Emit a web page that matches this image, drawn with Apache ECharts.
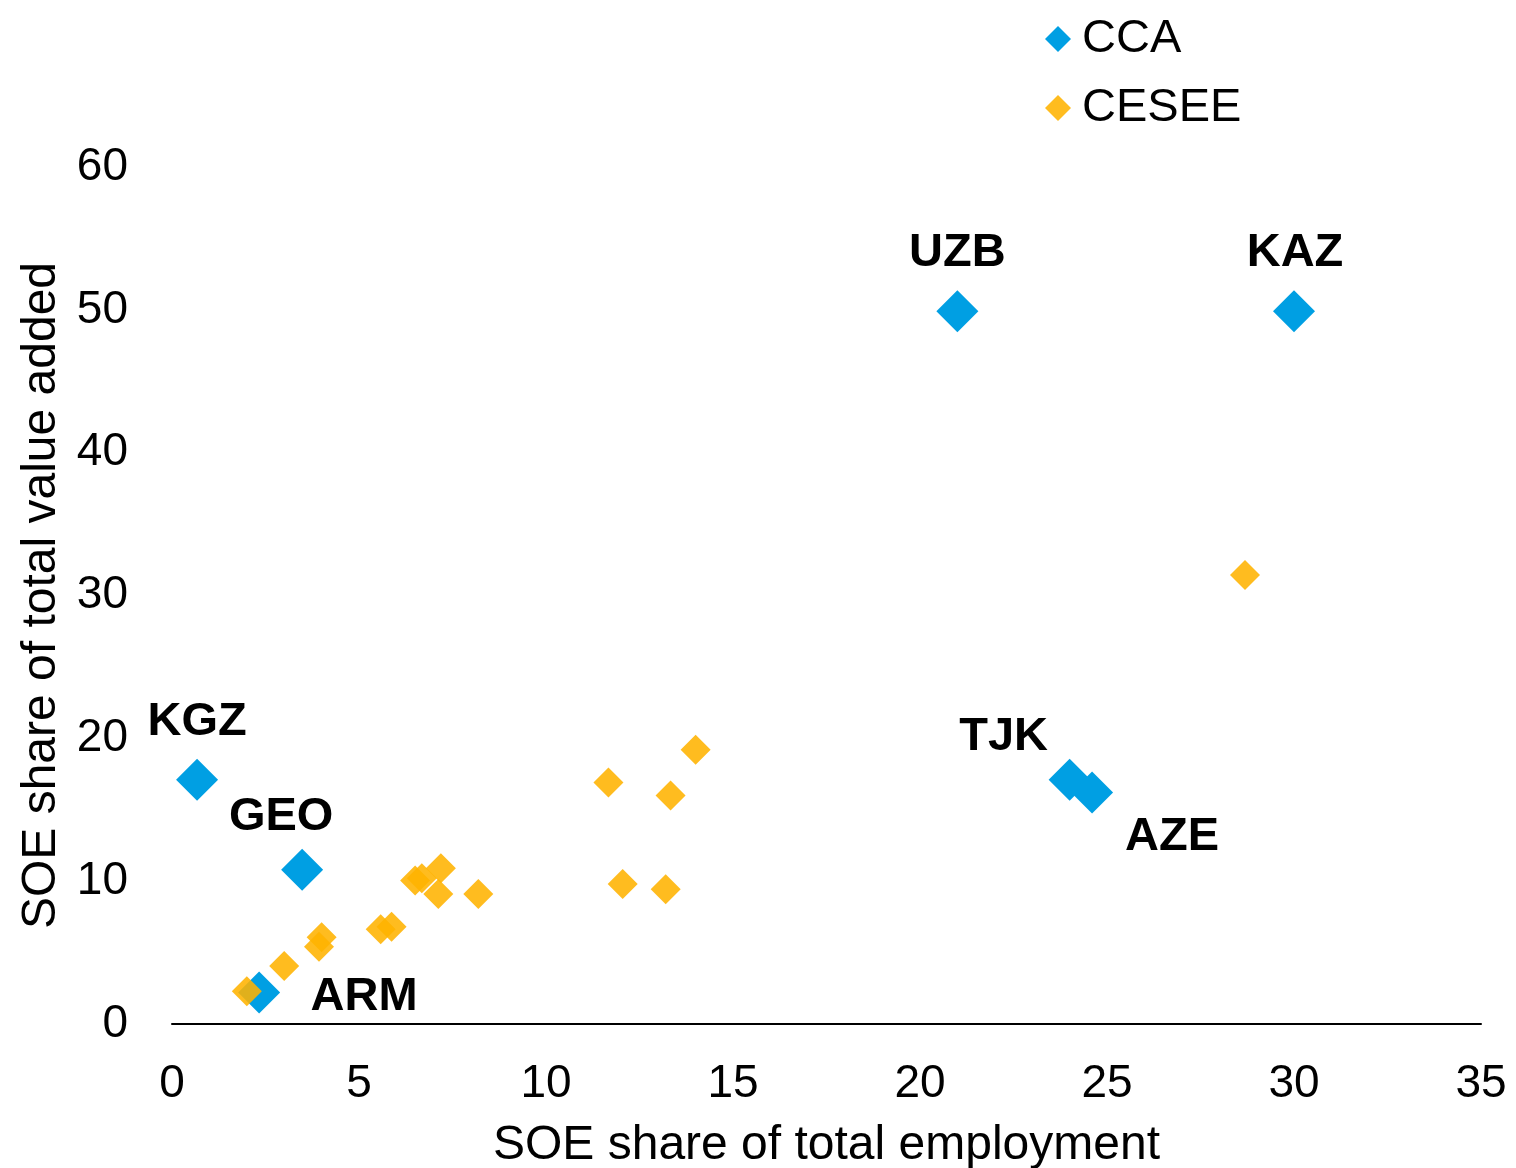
<!DOCTYPE html>
<html><head><meta charset="utf-8">
<script src="https://cdn.jsdelivr.net/npm/echarts@6/dist/echarts.min.js"></script>
<style>html,body{margin:0;padding:0;background:#fff}#c{width:1516px;height:1168px}</style>
</head><body><div id="c"></div>
<script>
const ccaNames = ['KGZ','GEO','ARM','UZB','KAZ','TJK','AZE'];
const ccaEmployment = [0.67, 3.48, 2.33, 21.0, 30.0, 24.0, 24.6];
const ccaValueAdded = [17.1, 10.8, 2.2, 49.9, 49.9, 17.1, 16.2];
const ceseeEmployment = [2.0, 3.0, 4.0, 3.93, 5.58, 5.87, 6.5, 6.68, 7.19, 7.12, 8.19, 14.0, 11.67, 13.33, 12.05, 13.2, 28.69];
const ceseeValueAdded = [2.3, 4.06, 6.07, 5.41, 6.63, 6.81, 10.04, 10.2, 10.9, 9.1, 9.1, 19.2, 16.9, 16.0, 9.8, 9.43, 31.44];
const xTicks = [0,5,10,15,20,25,30,35];
const yTicks = [0,10,20,30,40,50,60];

const labelOffsets = {KGZ:[0,-58], GEO:[-21,-53], ARM:[105,4], UZB:[0,-58], KAZ:[1,-58], TJK:[-66,-43], AZE:[80,44]};
const font = 'Arial, "Liberation Sans", sans-serif';

const ccaData = ccaNames.map((n,i)=>({
  name:n, value:[ccaEmployment[i], ccaValueAdded[i]],
  label:{show:true, formatter:n, position:'inside', offset:labelOffsets[n],
    fontFamily:font, fontWeight:'bold', fontSize:47, color:'#000'}
}));
const ceseeData = ceseeEmployment.map((x,i)=>[x, ceseeValueAdded[i]]);

const chart = echarts.init(document.getElementById('c'), null, {renderer:'canvas'});
chart.setOption({
  animation:false,
  backgroundColor:'#fff',
  textStyle:{fontFamily:font},
  grid:{left:172, right:35, top:167, bottom:144, containLabel:false, outerBoundsMode:'none'},
  legend:{
    orient:'vertical', left:1040, top:10, itemWidth:26, itemHeight:26, itemGap:21,
    textStyle:{fontSize:47, lineHeight:48, color:'#000', fontFamily:font, padding:[0,0,0,6]},
    data:[{name:'CCA', icon:'diamond'},{name:'CESEE', icon:'diamond'}]
  },
  xAxis:{
    type:'value', min:xTicks[0], max:xTicks[xTicks.length-1], interval:5,
    name:'SOE share of total employment', nameLocation:'middle', nameGap:98,
    nameTextStyle:{fontSize:48, color:'#000', fontFamily:font},
    axisLine:{show:true, onZero:false, lineStyle:{color:'#000', width:2}},
    axisTick:{show:false}, splitLine:{show:false},
    axisLabel:{fontSize:46, color:'#000', margin:37, fontFamily:font}
  },
  yAxis:{
    type:'value', min:yTicks[0], max:yTicks[yTicks.length-1], interval:10,
    name:'SOE share of total value added', nameLocation:'middle', nameGap:106,
    nameTextStyle:{fontSize:48, color:'#000', fontFamily:font},
    axisLine:{show:false}, axisTick:{show:false}, splitLine:{show:false},
    axisLabel:{fontSize:46, color:'#000', margin:44, fontFamily:font, padding:[5,0,0,0]}
  },
  series:[
    {name:'CCA', type:'scatter', symbol:'diamond', symbolSize:42, z:2,
     itemStyle:{color:'#009FE3', opacity:1}, data:ccaData},
    {name:'CESEE', type:'scatter', symbol:'diamond', symbolSize:30, z:3,
     itemStyle:{color:'#FFB300', opacity:0.88}, data:ceseeData}
  ]
});
</script></body></html>
